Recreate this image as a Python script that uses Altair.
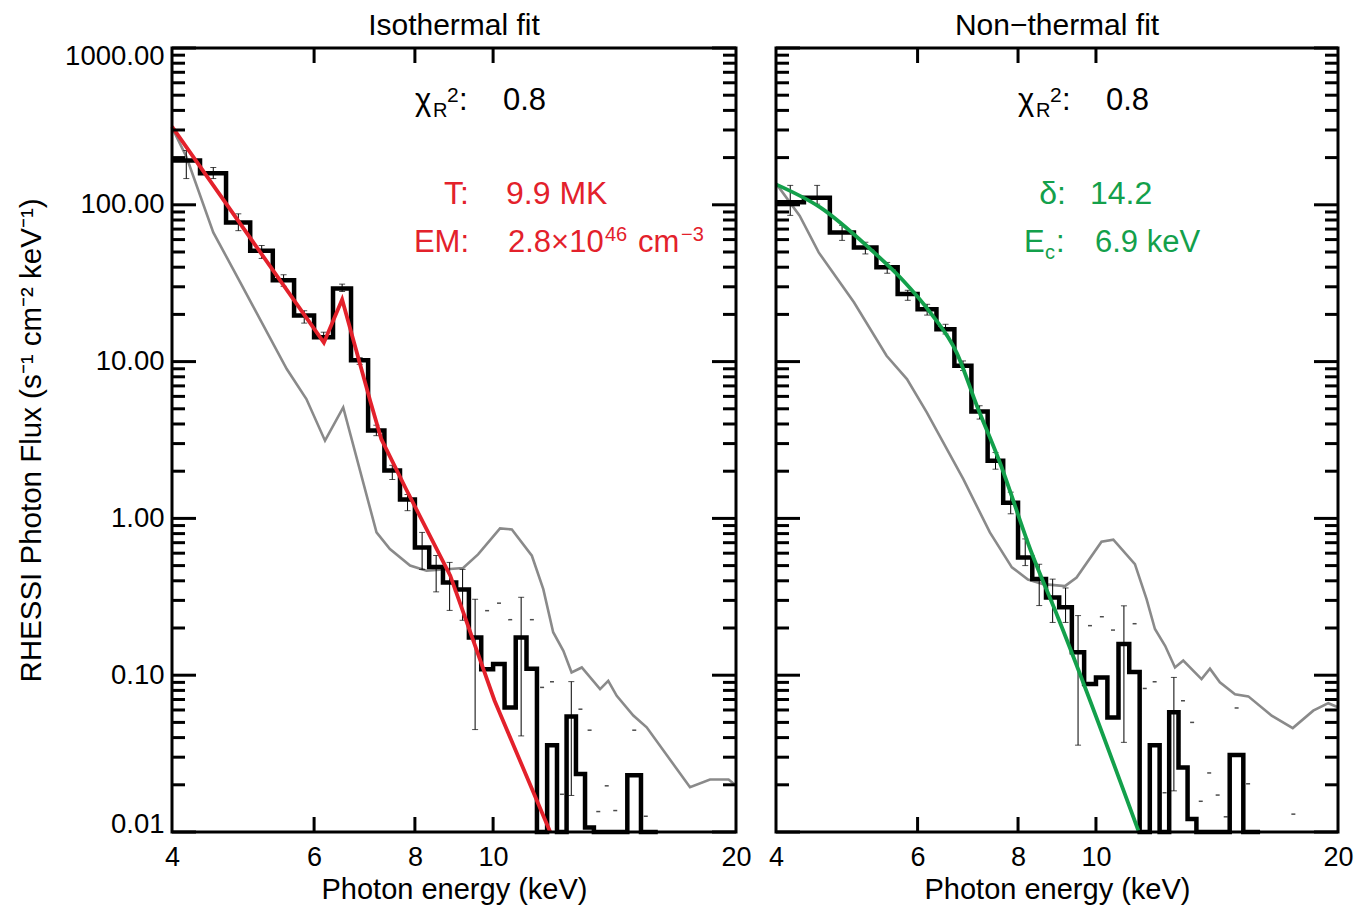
import altair as alt
import numpy as np
import pandas as pd

FONT = "Liberation Sans"
RED = "#e3212b"
GREEN = "#13a04b"
GRAY = "#8a8a8a"

X_DOMAIN = [4, 20]
Y_DOMAIN = [0.01, 1000]
x_tick_labels = [4, 6, 8, 10, 20]
x_inner_ticks = [6, 8, 10]
y_tick_labels = [0.01, 0.1, 1, 10, 100, 1000]

# energy bin edges (keV)
bin_edges = [4.0, 4.333, 4.667, 5.0, 5.333, 5.667, 6.0, 6.333, 6.667, 7.0, 7.333, 7.667,
             8.0, 8.333, 8.667, 9.0, 9.333, 9.667, 10.0, 10.333, 10.667, 11.0, 11.333,
             11.667, 12.0, 12.333, 12.667, 13.0, 13.333, 13.667, 14.0, 14.333, 14.667,
             15.25, 15.667, 16.0]

# ---------------- Isothermal fit panel ----------------
iso_flux = [192, 159, 77, 51, 33, 19.7, 14.3, 29.3, 10.2, 3.64, 2.02, 1.32, 0.653, 0.49,
            0.39, 0.352, 0.174, 0.109, 0.118, 0.0623, 0.174, 0.11, 0, 0.0358, 0, 0.0546,
            0.0234, 0.0107, 0, 0, 0, 0, 0.023, 0, 0]
iso_err_bins = [0, 1, 2, 3, 4, 5, 6, 7, 8, 9, 10, 11, 12, 13, 14, 15, 16, 20, 25]
iso_err_hi = [222, 173, 87.6, 55, 35.8, 21.1, 15.4, 31.2, 10.6, 3.93, 2.18, 1.42, 0.814,
              0.58, 0.524, 0.473, 0.305, 0.314, 0.091]
iso_err_lo = [147, 147, 68.4, 45.5, 30.2, 17.6, 13.8, 28.0, 9.6, 3.37, 1.77, 1.12, 0.473,
              0.34, 0.259, 0.224, 0.045, 0.041, 0.0171]
iso_dash_e = [9.83, 10.17, 10.5, 11.17, 11.5, 11.83, 12.17, 12.83, 13.17, 13.5, 13.83,
              14.17, 14.96, 15.46]
iso_dash_v = [0.258, 0.288, 0.226, 0.226, 0.0836, 0.0908, 0.0174, 0.0607, 0.0446, 0.0135,
              0.0197, 0.0137, 0.0446, 0.0126]
iso_bg_e = [4.0, 4.17, 4.5, 4.86, 5.55, 5.87, 6.19, 6.52, 7.17, 7.45, 7.89, 8.27, 9.18,
            9.58, 10.2, 10.55, 11.17, 11.54, 11.87, 12.22, 12.51, 12.88, 13.57, 13.89,
            14.23, 14.92, 15.5, 17.54, 18.57, 19.58, 20.0]
iso_bg_v = [312, 201, 66.7, 32, 8.96, 5.77, 3.13, 5.1, 0.814, 0.637, 0.5, 0.464, 0.483,
            0.589, 0.863, 0.851, 0.578, 0.354, 0.188, 0.143, 0.104, 0.112, 0.0816, 0.092,
            0.0739, 0.0553, 0.0465, 0.0193, 0.0216, 0.0216, 0.0198]
iso_fit_e = [4.0, 6.17, 6.5, 7.05, 7.27, 7.8, 8.85, 10.04, 11.77]
iso_fit_v = [315, 13.2, 24.9, 5.5, 3.2, 1.54, 0.431, 0.069, 0.01]

# ---------------- Non-thermal fit panel ----------------
nth_flux = [104, 111, 66.7, 53.5, 39.9, 27, 21.6, 16.1, 9.41, 4.8, 2.33, 1.26, 0.564, 0.41,
            0.313, 0.271, 0.14, 0.0878, 0.0968, 0.0538, 0.158, 0.105, 0, 0.0358, 0, 0.058,
            0.0258, 0.0121, 0, 0, 0, 0, 0.031, 0, 0]
nth_err_bins = [0, 1, 2, 3, 4, 5, 6, 7, 8, 9, 10, 11, 12, 13, 14, 15, 16, 20, 25]
nth_err_hi = [133, 133, 74, 57.7, 42.9, 28.5, 23.2, 17.3, 10.1, 5.23, 2.63, 1.47, 0.74,
              0.51, 0.41, 0.36, 0.24, 0.277, 0.0968]
nth_err_lo = [85.6, 101, 59.3, 48.6, 36.6, 24.6, 19.8, 15.0, 8.77, 4.3, 2.06, 1.07, 0.5,
              0.278, 0.217, 0.217, 0.0358, 0.0373, 0.0183]
nth_dash_e = [9.83, 10.17, 10.5, 11.17, 11.5, 11.83, 12.17, 12.83, 13.17, 13.5, 13.83,
              14.17, 14.5, 14.96, 15.46, 17.6]
nth_dash_v = [0.207, 0.236, 0.194, 0.213, 0.0823, 0.0908, 0.0178, 0.0687, 0.05, 0.0157,
              0.0238, 0.0172, 0.0125, 0.0618, 0.0203, 0.013]
nth_bg_e = [4.0, 4.28, 4.52, 5.0, 5.49, 5.82, 6.16, 6.84, 7.38, 7.86, 8.23, 8.6, 9.15,
            9.46, 10.16, 10.51, 11.18, 11.56, 11.84, 12.19, 12.54, 12.84, 13.53, 13.86,
            14.26, 14.89, 15.47, 16.54, 17.57, 18.63, 19.45, 20.0]
nth_bg_v = [137, 85.2, 49.7, 23.9, 10.9, 7.74, 4.74, 1.78, 0.814, 0.487, 0.408, 0.381,
            0.37, 0.42, 0.71, 0.731, 0.511, 0.306, 0.197, 0.154, 0.112, 0.124, 0.0945,
            0.11, 0.09, 0.0757, 0.0733, 0.0552, 0.046, 0.0594, 0.0663, 0.0624]
nth_fit_e = [4.0, 4.54, 5.24, 5.76, 6.22, 6.71, 7.11, 7.58, 8.3, 8.98, 11.29]
nth_fit_v = [135, 96.2, 52.2, 32.8, 20.6, 11.4, 5.23, 2.33, 0.62, 0.23, 0.0102]

PLOT_H = 784


def xenc(field):
    return alt.X(f"{field}:Q",
                 scale=alt.Scale(type="log", domain=X_DOMAIN, nice=False),
                 axis=alt.Axis(values=x_tick_labels, format="d", tickSize=0, domain=False,
                               grid=False, labelFontSize=27, labelPadding=12,
                               labelFlush=False, labelOverlap=False, labelFont=FONT,
                               labelColor="black", title="Photon energy (keV)",
                               titleFont=FONT, titleFontSize=29, titleFontWeight="normal",
                               titleColor="black", titlePadding=5))


def yenc(field, show):
    scale = alt.Scale(type="log", domain=Y_DOMAIN, nice=False)
    if not show:
        return alt.Y(f"{field}:Q", scale=scale, axis=None)
    return alt.Y(f"{field}:Q", scale=scale,
                 axis=alt.Axis(values=y_tick_labels, format=".2f", tickSize=0, domain=False,
                               grid=False, labelFontSize=27.5, labelPadding=8,
                               labelFlush=True, labelFlushOffset=6, labelFont=FONT,
                               labelColor="black",
                               title="RHESSI Photon Flux (s\u207b\u00b9 cm\u207b\u00b2 keV\u207b\u00b9)",
                               titleFont=FONT, titleFontSize=29.5, titleFontWeight="normal",
                               titleColor="black", titlePadding=18))


def label(txt, x, y, size, color, align="left"):
    return alt.Chart(pd.DataFrame({"t": [txt]})).mark_text(
        align=align, baseline="alphabetic", fontSize=size, color=color, font=FONT
    ).encode(x=alt.value(x), y=alt.value(y), text="t:N")


def panel(flux, err_bins, err_lo, err_hi, dash_e, dash_v, bg_e, bg_v, fit_e, fit_v,
          fit_color, fit_interp, title, width, show_y, notes):
    ymin = Y_DOMAIN[0]
    hv = [max(v, ymin) for v in flux]
    hist = pd.DataFrame({"e": bin_edges, "v": hv + [hv[-1]]})
    centers = [(bin_edges[i] + bin_edges[i + 1]) / 2 for i in err_bins]
    errs = pd.DataFrame({"e": centers, "lo": err_lo, "hi": err_hi})
    dashes = pd.DataFrame({"e": dash_e, "v": dash_v})
    bg = pd.DataFrame({"e": bg_e, "v": bg_v})
    fit = pd.DataFrame({"e": fit_e, "v": fit_v})

    majors = pd.DataFrame({"v": y_tick_labels})
    minors = pd.DataFrame({"v": [d * k for d in y_tick_labels[:-1] for k in range(2, 10)]})
    xt = pd.DataFrame({"e": x_inner_ticks})

    layers = [
        alt.Chart(bg).mark_line(color=GRAY, strokeWidth=2.6).encode(
            x=xenc("e"), y=yenc("v", show_y)),
        alt.Chart(hist).mark_line(color="black", strokeWidth=4.5, interpolate="step-after",
                                  strokeJoin="miter").encode(
            x=xenc("e"), y=yenc("v", show_y)),
        alt.Chart(errs).mark_rule(color="black", strokeWidth=1).encode(
            x=xenc("e"), y=yenc("lo", show_y), y2="hi:Q"),
        alt.Chart(errs).mark_tick(color="black", orient="horizontal", size=6,
                                  thickness=1).encode(x=xenc("e"), y=yenc("lo", show_y)),
        alt.Chart(errs).mark_tick(color="black", orient="horizontal", size=6,
                                  thickness=1).encode(x=xenc("e"), y=yenc("hi", show_y)),
        alt.Chart(dashes).mark_tick(color="black", orient="horizontal", size=4,
                                    thickness=1.5).encode(x=xenc("e"), y=yenc("v", show_y)),
        alt.Chart(fit).mark_line(color=fit_color, strokeWidth=3.8,
                                 interpolate=fit_interp).encode(
            x=xenc("e"), y=yenc("v", show_y)),
        # inward tick marks on all four sides
        alt.Chart(majors).mark_rule(color="black", strokeWidth=3).encode(
            y=yenc("v", show_y), x=alt.value(0), x2=alt.value(24)),
        alt.Chart(minors).mark_rule(color="black", strokeWidth=3).encode(
            y=yenc("v", show_y), x=alt.value(0), x2=alt.value(13)),
        alt.Chart(majors).mark_rule(color="black", strokeWidth=3).encode(
            y=yenc("v", show_y), x=alt.value(width), x2=alt.value(width - 24)),
        alt.Chart(minors).mark_rule(color="black", strokeWidth=3).encode(
            y=yenc("v", show_y), x=alt.value(width), x2=alt.value(width - 13)),
        alt.Chart(xt).mark_rule(color="black", strokeWidth=3).encode(
            x=xenc("e"), y=alt.value(PLOT_H), y2=alt.value(PLOT_H - 15)),
        alt.Chart(xt).mark_rule(color="black", strokeWidth=3).encode(
            x=xenc("e"), y=alt.value(0), y2=alt.value(15)),
        # plot frame
        alt.Chart(pd.DataFrame({"f": [0]})).mark_rect(
            filled=False, stroke="black", strokeWidth=3).encode(
            x=alt.value(0), x2=alt.value(width), y=alt.value(0), y2=alt.value(PLOT_H)),
        # panel title
        label(title, width / 2, -13, 30, "black", "center"),
    ]
    layers += notes
    return alt.layer(*layers).properties(width=width, height=PLOT_H)


chi_left = [
    label("\u03c7", 243, 62, 31, "black"),
    label("R", 261, 69, 20, "black"),
    label("2", 275, 54, 21, "black"),
    label(":", 287, 62, 31, "black"),
    label("0.8", 331, 62, 31, "black"),
]
iso_notes = chi_left + [
    label("T:", 297, 156, 32, RED, "right"),
    label("9.9 MK", 334, 156, 32, RED),
    label("EM:", 297, 204, 31, RED, "right"),
    label("2.8\u00d710", 336, 204, 31, RED),
    label("46", 433, 193, 20, RED),
    label("cm", 466, 204, 31, RED),
    label("\u22123", 509, 193, 20, RED),
]
nth_notes = [
    label("\u03c7", 242, 62, 31, "black"),
    label("R", 260, 69, 20, "black"),
    label("2", 274, 54, 21, "black"),
    label(":", 286, 62, 31, "black"),
    label("0.8", 330, 62, 31, "black"),
    label("\u03b4:", 290, 156, 32, GREEN, "right"),
    label("14.2", 314, 156, 32, GREEN),
    label("E", 248, 204, 31, GREEN),
    label("c", 269, 211, 20, GREEN),
    label(":", 280, 204, 31, GREEN),
    label("6.9 keV", 319, 204, 31, GREEN),
]

left = panel(iso_flux, iso_err_bins, iso_err_lo, iso_err_hi, iso_dash_e, iso_dash_v,
             iso_bg_e, iso_bg_v, iso_fit_e, iso_fit_v, RED, "linear", "Isothermal fit",
             564, True, iso_notes)
right = panel(nth_flux, nth_err_bins, nth_err_lo, nth_err_hi, nth_dash_e, nth_dash_v,
              nth_bg_e, nth_bg_v, nth_fit_e, nth_fit_v, GREEN, "monotone",
              "Non\u2212thermal fit", 562, False, nth_notes)

chart = alt.HConcatChart(hconcat=[left, right], spacing=40, bounds="flush").properties(
    padding={"left": 16, "top": 10, "right": 5, "bottom": 5}
).configure_view(strokeWidth=0).configure(background="white")

chart.save("out.html", embed_options={"renderer": "svg", "actions": False})
